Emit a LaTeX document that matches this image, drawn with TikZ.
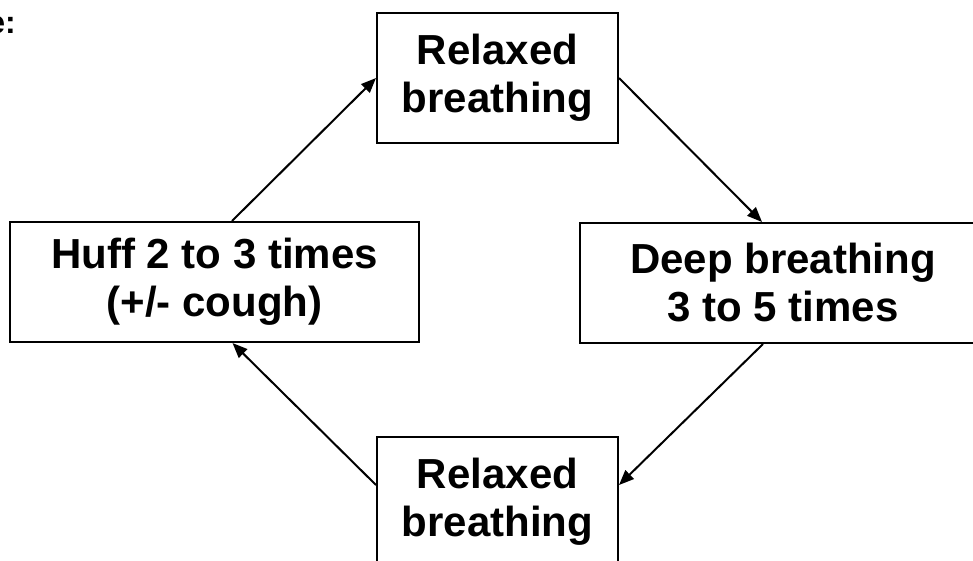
\documentclass[tikz,border=0pt]{standalone}
\usepackage{fontspec}
\setmainfont{Liberation Sans}
\usetikzlibrary{arrows.meta}
\begin{document}
\begin{tikzpicture}[x=1pt,y=1pt,
  box/.style={draw, line width=2pt, align=center, inner sep=0pt, font=\fontsize{42}{48}\selectfont\bfseries},
  arr/.style={line width=2pt, -{Triangle[length=15pt,width=12pt]}}]
\useasboundingbox (0,0) rectangle (973,-560);
\node[anchor=base east, inner sep=0pt, font=\fontsize{32}{38}\selectfont\bfseries] (lbl) at (16,-33) {e:};
\node[box, minimum width=241, minimum height=130] (top) at (497.5,-78) {Relaxed\\breathing};
\node[box, minimum width=409, minimum height=120] (left) at (214.5,-282) {Huff 2 to 3 times\\(+/- cough)};
\node[box, minimum width=406, minimum height=120] (right) at (783,-283) {Deep breathing\\3 to 5 times};
\node[box, minimum width=241, minimum height=130] (bottom) at (497.5,-502) {Relaxed\\breathing};
\draw[arr] ([xshift=17.5]left.north) -- (top.west);
\draw[arr] (top.east) -- ([xshift=-21]right.north);
\draw[arr] ([xshift=-20]right.south) -- ([yshift=17]bottom.east);
\draw[arr] ([yshift=17]bottom.west) -- ([xshift=18]left.south);
\end{tikzpicture}
\end{document}
